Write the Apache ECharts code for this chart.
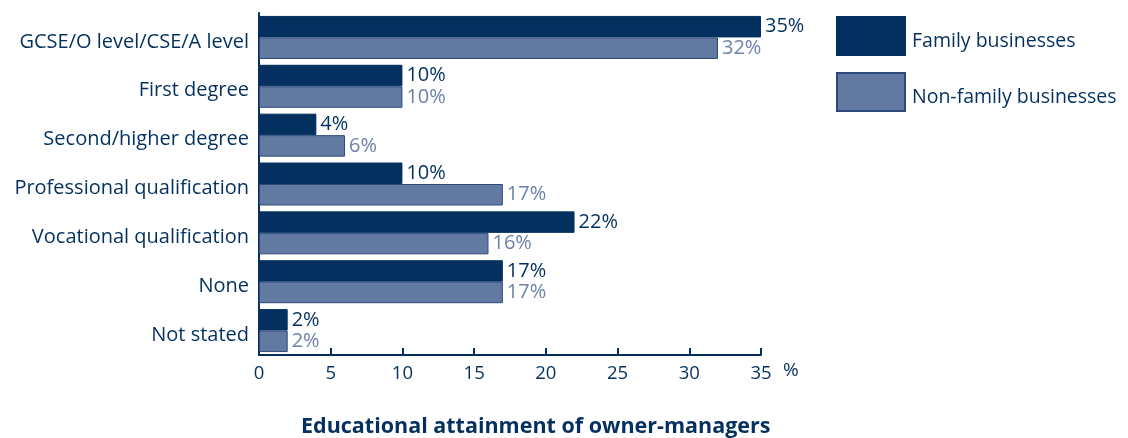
<!DOCTYPE html>
<html>
<head>
<meta charset="utf-8">
<script src="https://cdn.jsdelivr.net/npm/echarts@6/dist/echarts.min.js"></script>
<style>
  html, body { margin: 0; padding: 0; background: #fff; }
  #chart { width: 1128px; height: 438px; }
</style>
</head>
<body>
<div id="chart"></div>
<script>
// categories (top to bottom)
const categories = [
  'GCSE/O level/CSE/A level',
  'First degree',
  'Second/higher degree',
  'Professional qualification',
  'Vocational qualification',
  'None',
  'Not stated'
]
const familyValues = [35, 10, 4, 10, 22, 17, 2]
const nonFamilyValues = [32, 10, 6, 17, 16, 17, 2]
const xTicks = [0, 5, 10, 15, 20, 25, 30, 35]

const navy = '#03305f'
const lightBlue = '#627aa1'
const font = '"Open Sans", "Noto Sans", sans-serif'

const myChart = echarts.init(document.getElementById('chart'))
myChart.setOption({
  animation: false,
  textStyle: { fontFamily: font },
  title: {
    text: 'Educational attainment of owner-managers',
    left: 296,
    bottom: -5,
    textStyle: { color: navy, fontSize: 21.5, fontWeight: 'bold', fontFamily: font }
  },
  legend: {
    orient: 'vertical',
    left: 836,
    top: 16,
    padding: 0,
    icon: 'rect',
    itemWidth: 68,
    itemHeight: 38,
    itemGap: 16,
    formatter: (name) => '{t|' + name + '}',
    textStyle: {
      color: navy, fontSize: 19.5, fontFamily: font,
      rich: { t: { color: navy, fontSize: 19.5, fontFamily: font, padding: [10, 0, 0, 2] } }
    },
    data: ['Family businesses', 'Non-family businesses']
  },
  grid: { left: 259, right: 367, top: 13, bottom: 83, containLabel: false },
  xAxis: {
    type: 'value',
    min: 0,
    max: 35,
    interval: 5,
    name: '%',
    nameLocation: 'end',
    nameGap: 22,
    nameTextStyle: { color: navy, fontSize: 19, verticalAlign: 'top', padding: [6, 0, 0, 0] },
    axisLine: { show: true, lineStyle: { color: navy, width: 2 } },
    axisTick: { show: true, inside: true, length: 7, lineStyle: { color: navy, width: 2 } },
    axisLabel: {
      color: navy, fontSize: 18.5, margin: 9,
      formatter: (v) => xTicks.includes(v) ? String(v) : ''
    },
    splitLine: { show: false }
  },
  yAxis: {
    type: 'category',
    inverse: true,
    data: categories,
    axisLine: { show: true, lineStyle: { color: navy, width: 2 } },
    axisTick: { show: false },
    axisLabel: {
      margin: 10,
      formatter: (v) => '{c|' + v + '}',
      rich: { c: { color: navy, fontSize: 20, fontFamily: font, padding: [9, 0, 0, 0] } }
    }
  },
  series: [
    {
      name: 'Family businesses',
      type: 'bar',
      data: familyValues,
      barGap: '0%',
      barCategoryGap: '12%',
      itemStyle: { color: navy, borderColor: navy, borderWidth: 1 },
      label: {
        show: true, position: 'right', distance: 4,
        color: navy, fontSize: 20, formatter: '{c}%'
      }
    },
    {
      name: 'Non-family businesses',
      type: 'bar',
      data: nonFamilyValues,
      barGap: '0%',
      barCategoryGap: '12%',
      itemStyle: { color: lightBlue, borderColor: '#2b4a7c', borderWidth: 1 },
      label: {
        show: true, position: 'right', distance: 4,
        color: '#6d82a8', fontSize: 20, formatter: '{c}%'
      }
    }
  ]
})
</script>
</body>
</html>
